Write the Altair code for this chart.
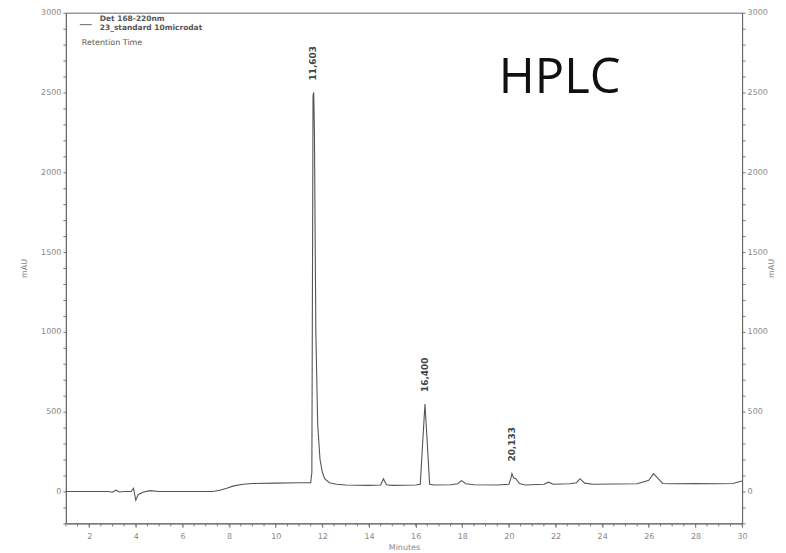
import altair as alt
import pandas as pd

# chromatogram trace (minutes, mAU)
times = [1.0, 2.8, 3.0, 3.15, 3.3, 3.5, 3.8, 3.9, 4.0, 4.1, 4.3, 4.6, 5.0, 6.0, 7.3,
         7.6, 7.9, 8.2, 8.6, 9.0, 10.0, 11.0, 11.5, 11.55, 11.58, 11.6, 11.63, 11.66,
         11.72, 11.8, 11.9, 12.0, 12.1, 12.3, 12.6, 13.0, 14.0, 14.5, 14.62, 14.75,
         15.0, 16.0, 16.2, 16.3, 16.4, 16.5, 16.6, 16.8, 17.5, 17.8, 17.97, 18.15,
         18.5, 19.5, 20.0, 20.08, 20.13, 20.2, 20.3, 20.45, 20.7, 21.5, 21.7, 21.9,
         22.6, 22.9, 23.05, 23.25, 23.6, 25.5, 26.0, 26.2, 26.4, 26.6, 27.0, 28.0,
         29.0, 29.6, 30.0]
values = [0, 0, -5, 8, -3, 0, 0, 20, -55, -20, -5, 5, 0, 0, 0,
          8, 20, 35, 45, 50, 52, 55, 55, 120, 1500, 2480, 2500, 2250,
          1000, 420, 200, 120, 80, 55, 45, 40, 38, 40, 80, 42,
          38, 40, 45, 300, 548, 300, 45, 40, 42, 48, 68, 48,
          42, 40, 45, 80, 112, 85, 80, 50, 40, 45, 58, 45,
          48, 55, 80, 52, 45, 48, 70, 112, 80, 50, 48, 50,
          48, 50, 65]

peak_times = [11.603, 16.400, 20.133]
peak_heights = [2500, 548, 112]
peak_labels = ["11,603", "16,400", "20,133"]

x_label_values = [2, 4, 6, 8, 10, 12, 14, 16, 18, 20, 22, 24, 26, 28, 30]
x_minor_values = [1 + 0.5 * i for i in range(59)]
y_tick_values = [-200 + 100 * i for i in range(33)]

legend_lines = ["Det 168-220nm", "23_standard 10microdat"]

df = pd.DataFrame({"t": times, "v": values})
pk = pd.DataFrame({"t": peak_times, "v": peak_heights, "label": peak_labels})
minor = pd.DataFrame({"t": x_minor_values})

xscale = alt.Scale(domain=[1, 30], nice=False, zero=False)
yscale = alt.Scale(domain=[-200, 3000], nice=False, zero=False)

tick_color = "#777"
label_color = "#888"

x_axis = alt.Axis(
    title="Minutes", values=x_label_values,
    labelOverlap=False, labelFlush=False,
    grid=False, tickSize=4, tickColor=tick_color, domainColor="#666",
    labelFontSize=8, labelColor=label_color, labelFont="DejaVu Sans",
    titleFontSize=8, titleColor=label_color, titleFontWeight="normal",
    titleFont="DejaVu Sans", labelPadding=5, titlePadding=3,
)
left_axis = alt.Axis(
    title="mAU", values=y_tick_values, orient="left", format="d",
    labelExpr="datum.value % 500 == 0 ? datum.label : ''",
    labelOverlap=False,
    grid=False, tickSize=3, tickColor=tick_color, domainColor="#666",
    labelFontSize=8, labelColor=label_color, labelFont="DejaVu Sans",
    titleFontSize=8, titleColor=label_color, titleFontWeight="normal",
    titleFont="DejaVu Sans", titlePadding=12,
)
right_axis = alt.Axis(
    title="mAU", values=y_tick_values, orient="right", format="d",
    labelExpr="datum.value % 500 == 0 ? datum.label : ''",
    labelOverlap=False,
    grid=False, tickSize=3, tickColor=tick_color, domainColor="#666",
    labelFontSize=8, labelColor=label_color, labelFont="DejaVu Sans",
    titleFontSize=8, titleColor=label_color, titleFontWeight="normal",
    titleFont="DejaVu Sans", titleAngle=270, titlePadding=8,
)

trace = alt.Chart(df).mark_line(color="#555", strokeWidth=1.1).encode(
    x=alt.X("t:Q", scale=xscale, axis=x_axis),
    y=alt.Y("v:Q", scale=yscale, axis=left_axis),
)

minor_ticks = alt.Chart(minor).mark_rule(color=tick_color, strokeWidth=1).encode(
    x=alt.X("t:Q", scale=xscale),
    y=alt.value(512), y2=alt.value(515),
)

peak_text = alt.Chart(pk).mark_text(
    angle=270, align="left", baseline="middle", yOffset=-12,
    fontSize=9, fontWeight="bold", color="#444", font="DejaVu Sans",
).encode(
    x=alt.X("t:Q", scale=xscale),
    y=alt.Y("v:Q", scale=yscale, axis=right_axis),
    text="label:N",
)

one = pd.DataFrame({"a": [0]})
legend_det = alt.Chart(one).mark_text(
    text=legend_lines, align="left", baseline="middle", fontSize=7.5,
    fontWeight="bold", color="#555", font="DejaVu Sans", lineHeight=9,
).encode(x=alt.value(34), y=alt.value(6))
legend_swatch = alt.Chart(one).mark_rule(color="#666", strokeWidth=1).encode(
    x=alt.value(14), x2=alt.value(26), y=alt.value(12))
legend_rt = alt.Chart(one).mark_text(
    text="Retention Time", align="left", baseline="middle", fontSize=8,
    color="#555", font="DejaVu Sans",
).encode(x=alt.value(16), y=alt.value(30))
hplc = alt.Chart(one).mark_text(
    text="HPLC", align="center", baseline="alphabetic", fontSize=49,
    color="#111", font="Open Sans",
).encode(x=alt.value(495), y=alt.value(81))

chart = alt.layer(
    trace, minor_ticks, peak_text, legend_det, legend_swatch, legend_rt, hplc
).resolve_scale(y="independent").properties(
    width=678, height=512,
    autosize=alt.AutoSizeParams(type="none"),
    padding={"left": 58, "top": 4, "right": 36, "bottom": 28},
).configure_view(stroke="#666", strokeWidth=1)

chart.save("out.html", embed_options={"renderer": "svg", "actions": False})
